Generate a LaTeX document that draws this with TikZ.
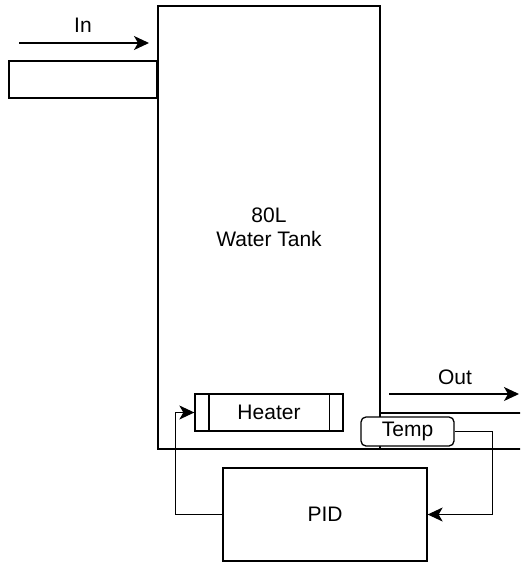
\documentclass[tikz,border=0pt]{standalone}
\usepackage{fontspec}
\setmainfont{Liberation Sans}
\usetikzlibrary{arrows.meta}

\begin{document}
\begin{tikzpicture}[x=1pt, y=-1pt, line width=1.3pt, >={Stealth[length=15pt, width=14pt, inset=4pt]},
  font=\fontsize{21}{24}\selectfont,
  box/.style={draw, fill=white, inner sep=0pt},
  lbl/.style={inner sep=0pt}]
  \useasboundingbox (0,0) rectangle (520,562);
  \clip (0,0) rectangle (520,562);
  % pipes and tank
  \node[box, minimum width=148, minimum height=37] (inpipe) at (83,79.5) {};
  \node[box, minimum width=160, minimum height=36] (outpipe) at (460,431) {};
  \node[draw, minimum width=222, minimum height=443, align=center] (tank) at (269,227.5) {80L\\Water Tank};
  % flow arrows
  \coordinate (inA) at (19,43);  \coordinate (inB) at (149,43);
  \draw[->] (inA) -- (inB); \node[lbl] (inlbl) at (83,25) {In};
  \coordinate (outA) at (389,394); \coordinate (outB) at (519,394);
  \draw[->] (outA) -- (outB); \node[lbl] (outlbl) at (455,377) {Out};
  % heater, sensor, controller
  \node[box, minimum width=148, minimum height=37] (heater) at (269,412.5) {Heater};
  \draw ([xshift=14.5pt]heater.north west) -- ([xshift=14.5pt]heater.south west);
  \draw ([xshift=-14.5pt]heater.north east) -- ([xshift=-14.5pt]heater.south east);
  \node[box, rounded corners=5pt, minimum width=93, minimum height=29] (temp) at (407.5,431.5) {Temp};
  \node[box, minimum width=204, minimum height=93] (pid) at (325,514.5) {PID};
  \draw[->] (pid.west) -- ++(-47,0) |- (heater.west);
  \draw[->] (temp.east) -- ++(37.5,0) |- (pid.east);
\end{tikzpicture}
\end{document}
